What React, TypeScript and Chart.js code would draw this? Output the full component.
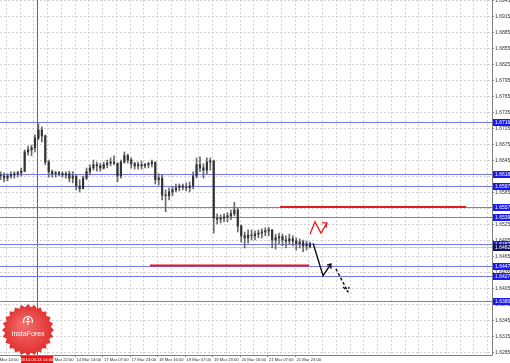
import React, { useEffect, useRef } from "react";
import { Chart, registerables } from "chart.js";
Chart.register(...registerables);

// ---- data ----
const firstBar = 5; // hour index of first candle (12 Mar 14:00 = 0)
const barStep = 2; // hours per candle
const highs = [1.6623,1.6621,1.6619,1.6623,1.6623,1.6624,1.6630,1.6664,1.6671,1.6673,
1.6692,1.6713,1.6707,1.6692,1.6645,1.6626,1.6624,1.6624,1.6623,1.6623,
1.6624,1.6623,1.6615,1.6608,1.6615,1.6630,1.6636,1.6645,1.6641,1.6639,
1.6641,1.6645,1.6649,1.6653,1.6638,1.6645,1.6660,1.6656,1.6649,1.6641,
1.6641,1.6643,1.6639,1.6641,1.6645,1.6641,1.6619,1.6617,1.6589,1.6593,
1.6596,1.6600,1.6600,1.6600,1.6602,1.6604,1.6623,1.6649,1.6651,1.6638,
1.6649,1.6649,1.6645,1.6544,1.6542,1.6544,1.6546,1.6551,1.6566,1.6555,
1.6523,1.6510,1.6514,1.6514,1.6512,1.6514,1.6516,1.6518,1.6519,1.6514,
1.6506,1.6508,1.6506,1.6503,1.6506,1.6503,1.6499,1.6497,1.6495,1.6493,
1.6491];
const lows = [1.6608,1.6604,1.6606,1.6611,1.6611,1.6613,1.6615,1.6623,1.6654,1.6653,
1.6660,1.6683,1.6679,1.6636,1.6613,1.6613,1.6613,1.6615,1.6613,1.6611,
1.6604,1.6602,1.6589,1.6585,1.6596,1.6608,1.6617,1.6626,1.6624,1.6624,
1.6628,1.6630,1.6634,1.6636,1.6604,1.6611,1.6639,1.6639,1.6630,1.6628,
1.6628,1.6628,1.6630,1.6630,1.6632,1.6600,1.6598,1.6570,1.6548,1.6570,
1.6578,1.6585,1.6587,1.6589,1.6587,1.6585,1.6591,1.6611,1.6623,1.6611,
1.6619,1.6626,1.6508,1.6525,1.6527,1.6529,1.6529,1.6533,1.6540,1.6510,
1.6491,1.6480,1.6489,1.6495,1.6495,1.6499,1.6499,1.6503,1.6503,1.6480,
1.6478,1.6488,1.6484,1.6480,1.6486,1.6484,1.6476,1.6480,1.6473,1.6476,
1.6480];
const closes = [1.6615,1.6611,1.6615,1.6617,1.6619,1.6621,1.6624,1.6660,1.6664,1.6668,
1.6686,1.6701,1.6690,1.6641,1.6623,1.6619,1.6621,1.6619,1.6617,1.6619,
1.6611,1.6615,1.6596,1.6591,1.6611,1.6623,1.6630,1.6636,1.6634,1.6630,
1.6636,1.6639,1.6641,1.6639,1.6615,1.6641,1.6653,1.6645,1.6638,1.6634,
1.6636,1.6634,1.6636,1.6638,1.6641,1.6608,1.6611,1.6579,1.6578,1.6585,
1.6589,1.6593,1.6596,1.6594,1.6593,1.6596,1.6615,1.6636,1.6630,1.6626,
1.6641,1.6643,1.6536,1.6534,1.6536,1.6538,1.6540,1.6544,1.6551,1.6521,
1.6503,1.6499,1.6504,1.6503,1.6506,1.6508,1.6510,1.6512,1.6514,1.6495,
1.6499,1.6501,1.6495,1.6493,1.6497,1.6493,1.6488,1.6491,1.6484,1.6488,
1.6482];
const firstOpen = 1.6617;

const yTickValues = [1.6285,1.6315,1.6345,1.6375,1.6405,1.6435,1.6465,1.6495,1.6525,1.6555,
1.6585,1.6615,1.6645,1.6675,1.6705,1.6735,1.6765,1.6795,1.6825,1.6855,1.6885,1.6915,1.6945];
const xTickBars = [0,16,32,48,64,80,96,112,128,144,160,176];
const xTickLabels = ["12 Mar 14:00","13 Mar 06:00","13 Mar 22:00","14 Mar 14:00","17 Mar 07:00",
"17 Mar 23:00","18 Mar 16:00","19 Mar 07:00","19 Mar 23:00","20 Mar 16:00","21 Mar 07:00","21 Mar 23:00"];

const levels = [1.6716,1.6618,1.6597,1.6557,1.6539,1.6487,1.6447,1.6427,1.6380];
const bidPrice = 1.6482;
const crossBar = 26.2;
const crossLabel = "2014.03.13 14:00";

const redLevelPrices = [1.6557, 1.6447];
const redLevelFrom = [167.6, 91.9];
const redLevelTo = [275.8, 184.5];

const redZigBars = [185.0, 187.9, 191.4, 194.9, null, 192.0, 194.9, 194.3];
const redZigPrices = [1.6506, 1.6529, 1.6508, 1.6527, null, 1.6527, 1.6527, 1.6518];
const blackArrowBars = [186.8, 192.6, 197.2, null, 194.9, 197.2, 197.2];
const blackArrowPrices = [1.6489, 1.6428, 1.6450, null, 1.6448, 1.6450, 1.6441];
const dashArrowBars = [200.1, 207.1, null, 204.2, 207.1, 207.7];
const dashArrowPrices = [1.6441, 1.6398, null, 1.6407, 1.6398, 1.6407];

const xMin = 4.65, xMax = 290.9;
const yMin = 1.62794, yMax = 1.6945;

function pts(bars: (number | null)[], prices: (number | null)[]) {
  return bars.map((b, i) => (b === null ? { x: NaN, y: null } : { x: b, y: prices[i] }));
}

const overlay = {
  id: "mtOverlay",
  beforeDatasetsDraw(chart: any) {
    const { ctx, chartArea: a, scales } = chart;
    const x = scales.x, y = scales.y;
    ctx.save();
    ctx.lineWidth = 1;
    ctx.strokeStyle = "#d2d2d2";
    ctx.setLineDash([2, 2]);
    for (const v of yTickValues) {
      const py = Math.round(y.getPixelForValue(v)) + 0.5;
      if (py <= a.top || py >= a.bottom) continue;
      ctx.beginPath(); ctx.moveTo(a.left, py); ctx.lineTo(a.right, py); ctx.stroke();
    }
    for (let b = 0; b < xMax; b += 8) {
      const px = Math.round(x.getPixelForValue(b)) + 0.5;
      if (px <= a.left || px >= a.right) continue;
      ctx.beginPath(); ctx.moveTo(px, a.top); ctx.lineTo(px, a.bottom); ctx.stroke();
    }
    ctx.setLineDash([]);
    // crosshair
    const cx = Math.round(x.getPixelForValue(crossBar)) + 0.5;
    ctx.strokeStyle = "#8a5a5a";
    ctx.beginPath(); ctx.moveTo(cx, a.top); ctx.lineTo(cx, a.bottom); ctx.stroke();
    // bid line
    const by = Math.round(y.getPixelForValue(bidPrice)) + 0.5;
    ctx.strokeStyle = "#cccccc";
    ctx.beginPath(); ctx.moveTo(a.left, by); ctx.lineTo(a.right, by); ctx.stroke();
    // levels
    ctx.strokeStyle = "#7676f0";
    for (const lv of levels) {
      const py = Math.round(y.getPixelForValue(lv)) + 0.5;
      ctx.beginPath(); ctx.moveTo(a.left, py); ctx.lineTo(a.right, py); ctx.stroke();
    }
    ctx.restore();
  },
  afterDraw(chart: any) {
    const { ctx, chartArea: a, scales } = chart;
    const x = scales.x, y = scales.y;
    const W = chart.width, H = chart.height;
    ctx.save();
    // borders
    ctx.strokeStyle = "#808080";
    ctx.lineWidth = 1;
    ctx.beginPath();
    ctx.moveTo(a.right + 0.5, 0); ctx.lineTo(a.right + 0.5, a.bottom + 0.5);
    ctx.lineTo(0, a.bottom + 0.5);
    ctx.stroke();
    // y labels
    ctx.font = "5px 'Liberation Sans', Arial, sans-serif";
    ctx.fillStyle = "#333";
    ctx.textAlign = "left";
    ctx.textBaseline = "middle";
    for (const v of yTickValues) {
      const py = y.getPixelForValue(v);
      ctx.beginPath(); ctx.moveTo(a.right, Math.round(py) + 0.5); ctx.lineTo(a.right + 2, Math.round(py) + 0.5); ctx.stroke();
      ctx.fillText(v.toFixed(4), a.right + 3, py + 0.5);
    }
    // level boxes
    const box = (price: number, fill: string) => {
      const py = Math.round(y.getPixelForValue(price));
      ctx.fillStyle = fill;
      ctx.fillRect(a.right + 1, py - 3, W - a.right - 1, 7);
      ctx.fillStyle = "#fff";
      ctx.fillText(price.toFixed(4), a.right + 3, py + 0.5);
    };
    for (const lv of levels) box(lv, "#1a1af0");
    box(bidPrice, "#101060");
    // x labels
    ctx.font = "4.2px 'Liberation Sans', Arial, sans-serif";
    ctx.fillStyle = "#333";
    ctx.textBaseline = "middle";
    xTickBars.forEach((b, i) => {
      const px = x.getPixelForValue(b);
      ctx.beginPath(); ctx.moveTo(Math.round(px) + 0.5, a.bottom); ctx.lineTo(Math.round(px) + 0.5, a.bottom + 2); ctx.stroke();
      ctx.fillText(xTickLabels[i], px + 2, a.bottom + 4.5);
    });
    // crosshair time box
    const cx = x.getPixelForValue(crossBar);
    ctx.fillStyle = "#f01010";
    ctx.fillRect(cx - 16, a.bottom + 1, 32, H - a.bottom - 1);
    ctx.fillStyle = "#fff";
    ctx.textAlign = "center";
    ctx.fillText(crossLabel, cx, a.bottom + 4.5);
    // logo
    const lx = 28, ly = 330, R = 26, r = 23, n = 24;
    ctx.beginPath();
    for (let k = 0; k < n * 2; k++) {
      const ang = (Math.PI * k) / n - Math.PI / 2;
      const rr = k % 2 === 0 ? R : r;
      const px = lx + rr * Math.cos(ang), py = ly + rr * Math.sin(ang);
      if (k === 0) ctx.moveTo(px, py); else ctx.lineTo(px, py);
    }
    ctx.closePath();
    const g = ctx.createRadialGradient(lx - 5, ly - 6, 2, lx, ly, R);
    g.addColorStop(0, "#f36b6b");
    g.addColorStop(1, "#e0302f");
    ctx.fillStyle = g;
    ctx.fill();
    // icon
    ctx.strokeStyle = "#fff";
    ctx.fillStyle = "#fff";
    ctx.lineWidth = 1.2;
    ctx.beginPath(); ctx.arc(lx, ly - 9, 4.5, Math.PI * 0.85, Math.PI * 2.15); ctx.stroke();
    ctx.beginPath(); ctx.arc(lx, ly - 11, 1.2, 0, Math.PI * 2); ctx.fill();
    ctx.beginPath(); ctx.moveTo(lx, ly - 9.5); ctx.lineTo(lx, ly - 5); ctx.moveTo(lx - 2.5, ly - 8.5); ctx.lineTo(lx + 2.5, ly - 8.5); ctx.stroke();
    ctx.font = "7px 'Liberation Sans', Arial, sans-serif";
    ctx.textAlign = "center";
    ctx.textBaseline = "middle";
    ctx.fillText("InstaForex", lx, ly + 4);
    ctx.restore();
  },
};

export default function App() {
  const ref = useRef<HTMLCanvasElement | null>(null);
  useEffect(() => {
    if (!ref.current) return;
    const wicks = highs.map((h, i) => ({ x: firstBar + barStep * i, y: [lows[i], h] }));
    const bodies = closes.map((c, i) => {
      const o = i === 0 ? firstOpen : closes[i - 1];
      return { x: firstBar + barStep * i, y: [Math.min(o, c), Math.max(o, c) + 0.00003] };
    });
    const redSegs: any[] = [];
    redLevelPrices.forEach((p, i) => {
      redSegs.push({ x: redLevelFrom[i], y: p }, { x: redLevelTo[i], y: p }, { x: NaN, y: null });
    });
    const lineBase = { type: "line", pointRadius: 0, tension: 0, spanGaps: false, fill: false };
    const chart = new Chart(ref.current, {
      type: "bar",
      data: {
        datasets: [
          { data: wicks, backgroundColor: "#6a6a6a", barThickness: 1, grouped: false, order: 5 } as any,
          { data: bodies, backgroundColor: "#333333", barThickness: 1.5, grouped: false, order: 4 } as any,
          { ...lineBase, data: redSegs, borderColor: "#e31b1b", borderWidth: 2, order: 3 } as any,
          { ...lineBase, data: pts(redZigBars, redZigPrices), borderColor: "#f02020", borderWidth: 1.3, order: 2 } as any,
          { ...lineBase, data: pts(blackArrowBars, blackArrowPrices), borderColor: "#111", borderWidth: 1.4, order: 1 } as any,
          { ...lineBase, data: pts(dashArrowBars, dashArrowPrices), borderColor: "#111", borderWidth: 1.4, borderDash: [3, 2], order: 0 } as any,
        ],
      },
      options: {
        responsive: false,
        animation: false,
        devicePixelRatio: 1,
        layout: { padding: { left: 0, top: 0, right: 18, bottom: 8 } },
        plugins: { legend: { display: false }, tooltip: { enabled: false } },
        scales: {
          x: { type: "linear", min: xMin, max: xMax, display: false, offset: false },
          y: { type: "linear", min: yMin, max: yMax, display: false },
        },
      } as any,
      plugins: [overlay],
    });
    return () => chart.destroy();
  }, []);
  return (
    <div style={{ position: "fixed", left: 0, top: 0, width: 510, height: 363, background: "#fff" }}>
      <canvas ref={ref} width={510} height={363} style={{ display: "block" }} />
    </div>
  );
}
